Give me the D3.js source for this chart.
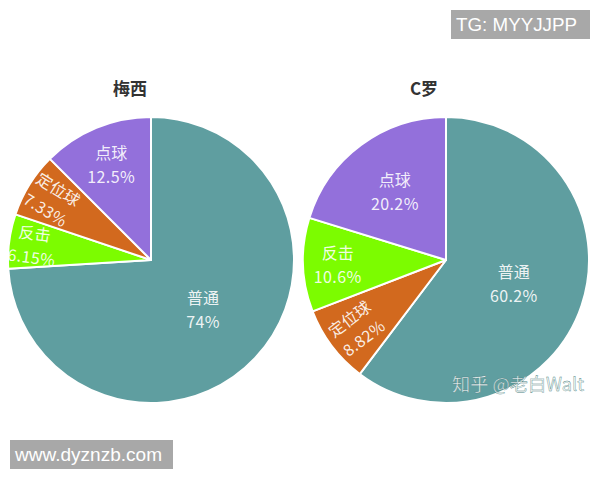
<!DOCTYPE html>
<html><head><meta charset="utf-8">
<script src="https://cdn.jsdelivr.net/npm/d3@7"></script>
<style>html,body{margin:0;padding:0;background:#fff;}svg{display:block;}</style>
</head><body>
<script>
// Data
const titles = ["梅西", "C罗"];
const messiCategories = ["普通", "反击", "定位球", "点球"];
const messiValues = [74, 6.15, 7.33, 12.5];
const ronaldoCategories = ["普通", "定位球", "反击", "点球"];
const ronaldoValues = [60.2, 8.82, 10.6, 20.2];
const watermarkTop = "TG: MYYJJPP";
const watermarkBottom = "www.dyznzb.com";
const watermarkZhihu = "知乎 @老白Walt";

const colorScale = d3.scaleOrdinal()
  .domain(["普通", "反击", "定位球", "点球"])
  .range(["#5F9EA0", "#7CFC00", "#D2691E", "#9370DB"]);

const W = 600, H = 480;
const svg = d3.select("body").append("svg").attr("width", W).attr("height", H);
const font = "'Noto Sans CJK SC', 'Noto Sans', sans-serif";

const pies = [
  {title: titles[0], cats: messiCategories, vals: messiValues, cx: 151, cy: 260, tx: 130},
  {title: titles[1], cats: ronaldoCategories, vals: ronaldoValues, cx: 446, cy: 260, tx: 424}
];
const R = 143;

const pie = d3.pie().sort(null).value(d => d.v);
const arc = d3.arc().innerRadius(0).outerRadius(R);

pies.forEach(p => {
  const data = p.cats.map((c, i) => ({c, v: p.vals[i]}));
  const arcs = pie(data);
  const g = svg.append("g").attr("transform", `translate(${p.cx},${p.cy})`);
  g.selectAll("path").data(arcs).enter().append("path")
    .attr("d", arc)
    .attr("fill", d => colorScale(d.data.c))
    .attr("stroke", "#fff")
    .attr("stroke-width", 2)
    .attr("stroke-linejoin", "round");

  arcs.forEach(d => {
    const span = (d.endAngle - d.startAngle) * 180 / Math.PI;
    const f = Math.max(0.5, Math.min(0.85, 0.93 - 0.0045 * span));
    const la = d3.arc().innerRadius(R * f).outerRadius(R * f);
    const [x, y] = la.centroid(d);
    const mid = (d.startAngle + d.endAngle) / 2 * 180 / Math.PI;
    let rot = 0;
    if (d.data.v < 10) rot = mid < 180 ? mid - 90 : mid - 270;
    const t = g.append("g").attr("transform", `translate(${x},${y}) rotate(${rot})`);
    t.append("text").attr("y", -12).attr("text-anchor", "middle").attr("dominant-baseline", "central")
      .attr("font-family", font).attr("font-size", 16).attr("fill", "#fff").attr("fill-opacity", 0.9)
      .text(d.data.c);
    t.append("text").attr("y", 12).attr("text-anchor", "middle").attr("dominant-baseline", "central")
      .attr("font-family", font).attr("font-size", 16).attr("fill", "#fff").attr("fill-opacity", 0.9)
      .attr("letter-spacing", 0.4)
      .text(d.data.v + "%");
  });

  svg.append("text").attr("x", p.tx).attr("y", 87)
    .attr("text-anchor", "middle").attr("dominant-baseline", "central")
    .attr("font-family", font).attr("font-weight", "bold").attr("font-size", 17).attr("fill", "#333")
    .text(p.title);
});

// Zhihu watermark
svg.append("text").attr("x", 452).attr("y", 383)
  .attr("dominant-baseline", "central")
  .attr("font-family", font).attr("font-size", 18).attr("fill", "#fff").attr("fill-opacity", 0.85)
  .attr("stroke", "#4a7f80").attr("stroke-width", 0.4)
  .attr("textLength", 132).attr("lengthAdjust", "spacingAndGlyphs")
  .text(watermarkZhihu);

// Grey boxes
function box(x, y, w, h, txt, tw) {
  svg.append("rect").attr("x", x).attr("y", y).attr("width", w).attr("height", h).attr("fill", "#a8a8a8");
  svg.append("text").attr("x", x + 5).attr("y", y + h / 2)
    .attr("dominant-baseline", "central")
    .attr("font-family", "'Liberation Sans', Arial, sans-serif").attr("font-size", 18).attr("fill", "#fff")
    .attr("textLength", tw).attr("lengthAdjust", "spacingAndGlyphs")
    .text(txt);
}
box(451, 10, 139, 29, watermarkTop, 121);
box(10, 440, 163, 29, watermarkBottom, 147);
</script>
</body></html>
